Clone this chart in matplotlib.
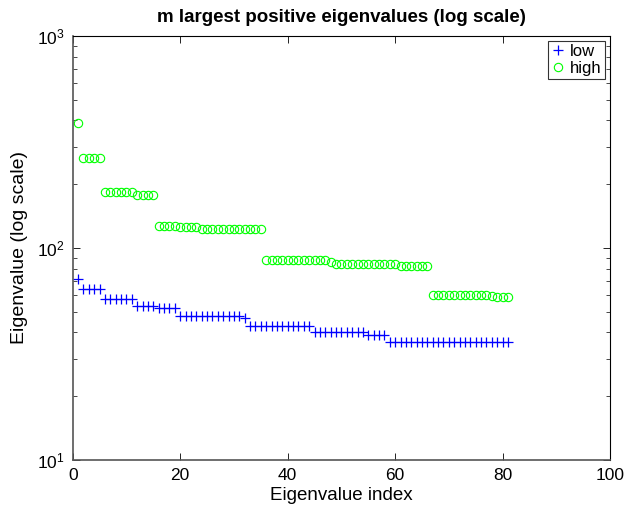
import numpy as np
import matplotlib
matplotlib.use("Agg")
import matplotlib.pyplot as plt
from matplotlib.ticker import LogLocator, NullFormatter

plt.rcParams['font.family'] = ['Liberation Sans', 'DejaVu Sans']

# (value, count) runs
low_runs = [(71.2, 1), (63.9, 4), (57.7, 6), (53.3, 4), (51.9, 4), (47.9, 12),
            (46.9, 1), (43.0, 12), (40.0, 10), (38.9, 4), (36.0, 23)]
high_runs = [(387.5, 1), (265.8, 4), (183.1, 6), (178.4, 4), (127.4, 4), (125.6, 4),
             (122.5, 12), (87.8, 12), (85.9, 1), (84.0, 12), (82.5, 6), (60.2, 11),
             (59.5, 1), (58.9, 3)]

low = [v for v, n in low_runs for _ in range(n)]
high = [v for v, n in high_runs for _ in range(n)]
idx_low = list(range(1, len(low) + 1))
idx_high = list(range(1, len(high) + 1))

fig = plt.figure(figsize=(6.27, 5.17), dpi=100)
ax = fig.add_axes([0.116, 0.1103, 0.973 - 0.116, 0.9304 - 0.1103])

ax.plot(idx_low, low, linestyle='none', marker='+', color=(0, 0, 1),
        markersize=7, markeredgewidth=0.9, label='low')
ax.plot(idx_high, high, linestyle='none', marker='o', color=(0, 1, 0),
        markerfacecolor='none', markersize=6, markeredgewidth=0.8, label='high')

ax.set_yscale('log')
ax.set_xlim(0, 100)
ax.set_ylim(10, 1000)
ax.set_xticks([0, 20, 40, 60, 80, 100])
ax.yaxis.set_major_locator(LogLocator(base=10, numticks=10))
ax.yaxis.set_minor_locator(LogLocator(base=10, subs=np.arange(2, 10), numticks=20))
ax.yaxis.set_minor_formatter(NullFormatter())

ax.tick_params(which='both', direction='in', top=True, right=True, labelsize=12.5)
ax.tick_params(which='major', length=5, width=0.6)
ax.tick_params(which='minor', length=3, width=0.5)
ax.tick_params(axis='x', which='major', pad=6)
ax.tick_params(axis='y', which='major', pad=6)

for s in ['left', 'bottom']:
    ax.spines[s].set_color('#555555')
    ax.spines[s].set_linewidth(1.2)
for s in ['top', 'right']:
    ax.spines[s].set_color('black')
    ax.spines[s].set_linewidth(0.8)

ax.set_xlabel('Eigenvalue index', fontsize=13.5, labelpad=3)
ax.set_ylabel('Eigenvalue (log scale)', fontsize=14, labelpad=6)
ax.set_title('m largest positive eigenvalues (log scale)', fontsize=13.5,
             fontweight='bold', pad=10)

leg = ax.legend(loc='upper right', fontsize=12, frameon=True, fancybox=False,
                borderpad=0.2, handlelength=0.8, handletextpad=0.3,
                labelspacing=0.1, borderaxespad=0.3, markerscale=1.0)
leg.get_frame().set_edgecolor('black')
leg.get_frame().set_linewidth(0.8)

fig.savefig('out.png', dpi=100)
